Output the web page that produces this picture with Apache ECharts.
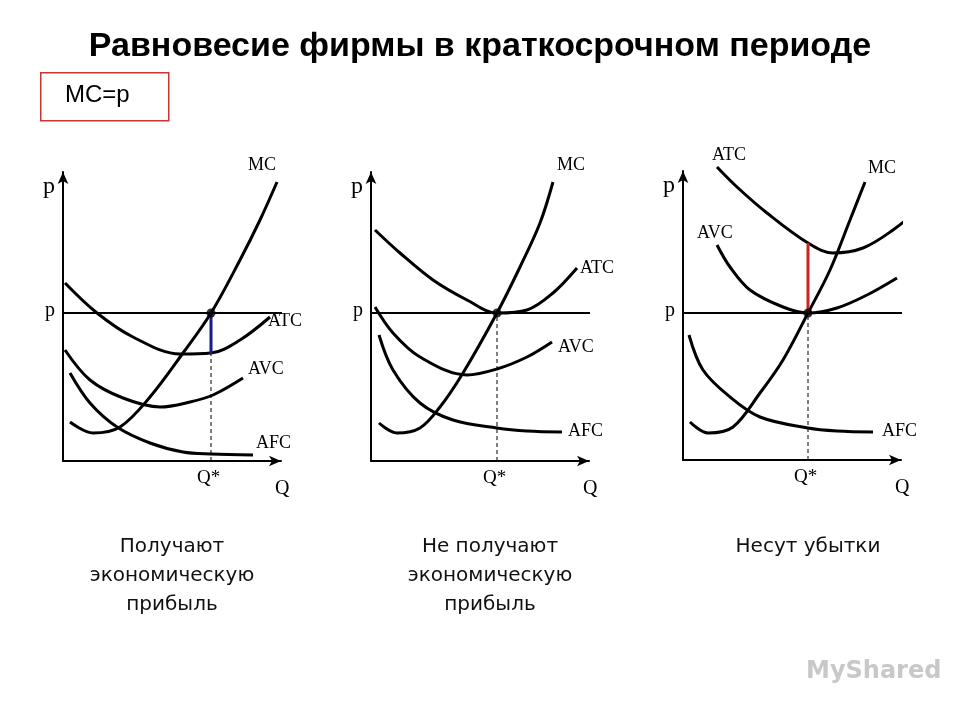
<!DOCTYPE html>
<html>
<head>
<meta charset="utf-8">
<script src="https://cdn.jsdelivr.net/npm/echarts@6/dist/echarts.min.js"></script>
<style>html,body{margin:0;padding:0;background:#fff}#main{width:960px;height:720px}</style>
</head>
<body>
<div id="main"></div>
<script>
// curve points per panel, (Q, p) in plot units measured from each origin
var mc1 = [[7,39],[30,28],[57,34],[87,64],[120,108],[148,148],[177,201],[197,241],[214,279]];
var atc1 = [[2,178],[34,148],[70,124],[117,107],[148,108],[177,121],[207,144]];
var avc1 = [[2,111],[27,81],[60,63],[97,54],[127,59],[150,66],[180,83]];
var afc1 = [[7,88],[27,58],[54,34],[87,18],[120,9],[148,7],[190,6]];

var mc2 = [[8,38],[26,28],[49,33],[69,54],[92,88],[126,148],[149,194],[169,238],[182,279]];
var atc2 = [[4,231],[29,208],[62,181],[96,161],[126,148],[156,151],[182,168],[206,193]];
var avc2 = [[4,154],[22,128],[49,104],[96,86],[126,92],[156,104],[181,119]];
var afc2 = [[8,126],[22,91],[49,58],[82,41],[126,33],[156,30],[191,29]];

var mc3 = [[7,38],[25,27],[50,33],[77,67],[100,100],[125,147],[147,190],[167,240],[182,278]];
var atc3 = [[34,293],[54,273],[84,247],[125,217],[150,207],[180,212],[210,230],[237,252]];
var avc3 = [[34,215],[47,193],[67,170],[100,153],[125,147],[154,152],[184,165],[214,182]];
var afc3 = [[6,125],[20,90],[47,63],[77,43],[125,32],[154,29],[190,28]];

var priceLevels = [148, 148, 147];
var qStars = [148, 126, 125];
var gapTops = [107, null, 217];   // ATC value at Q* where a gap is marked
var gapColors = ['#1a1a8c', null, '#cc2222'];
var captions = ['Получают\nэкономическую\nприбыль', 'Не получают\nэкономическую\nприбыль', 'Несут убытки'];

var panels = [
  {mc: mc1, atc: atc1, avc: avc1, afc: afc1, left: 63, bottom: 461, cx: 172},
  {mc: mc2, atc: atc2, avc: avc2, afc: afc2, left: 371, bottom: 461, cx: 490},
  {mc: mc3, atc: atc3, avc: avc3, afc: afc3, left: 683, bottom: 460, cx: 808}
];
var W = 218, H = 289;

var grids = [], xAxes = [], yAxes = [], series = [], graphics = [];
var serif = '"Liberation Serif", "DejaVu Serif", serif';

panels.forEach(function (pn, i) {
  grids.push({left: pn.left, top: pn.bottom - H, width: W, height: H});
  var axisLine = {show: true, symbol: ['none', 'arrow'], symbolSize: [8, 12], lineStyle: {color: '#000', width: 2}};
  xAxes.push({gridIndex: i, type: 'value', min: 0, max: W, axisLine: axisLine, axisTick: {show: false}, axisLabel: {show: false}, splitLine: {show: false}});
  yAxes.push({gridIndex: i, type: 'value', min: 0, max: H, axisLine: axisLine, axisTick: {show: false}, axisLabel: {show: false}, splitLine: {show: false}});
  var base = {type: 'line', xAxisIndex: i, yAxisIndex: i, showSymbol: false, symbol: 'none', clip: false, silent: true};
  [pn.mc, pn.atc, pn.avc, pn.afc].forEach(function (d) {
    series.push(Object.assign({}, base, {data: d, smooth: 0.35, lineStyle: {color: '#000', width: 3}}));
  });
  var p = priceLevels[i], q = qStars[i];
  series.push(Object.assign({}, base, {data: [[0, p], [237, p]], lineStyle: {color: '#000', width: 2}}));
  series.push(Object.assign({}, base, {data: [[q, 0], [q, p]], lineStyle: {color: '#000', width: 1, type: [4, 3]}}));
  if (gapTops[i] !== null) {
    series.push(Object.assign({}, base, {data: [[q, p], [q, gapTops[i]]], z: 3, lineStyle: {color: gapColors[i], width: 3}}));
  }
  series.push({type: 'scatter', xAxisIndex: i, yAxisIndex: i, data: [[q, p]], symbolSize: 9, itemStyle: {color: '#000'}, z: 4, silent: true});

  graphics.push({type: 'text', left: pn.left - 20, top: pn.bottom - 286, style: {text: 'p', font: '24px ' + serif, fill: '#000'}});
  graphics.push({type: 'text', left: pn.left - 18, top: pn.bottom - p - 12, style: {text: 'p', font: '20px ' + serif, fill: '#000'}});
  graphics.push({type: 'text', left: pn.left + q - 14, top: pn.bottom + 8, style: {text: 'Q*', font: '19px ' + serif, fill: '#000'}});
  graphics.push({type: 'text', left: pn.left + W - 6, top: pn.bottom + 18, style: {text: 'Q', font: '20px ' + serif, fill: '#000'}});
  graphics.push({type: 'text', x: pn.cx, y: 532, style: {text: captions[i], font: '20px "DejaVu Sans", sans-serif', fill: '#111', align: 'center', verticalAlign: 'top', lineHeight: 29}});
});

// curve name labels
var lbl = [
  ['MC', 248, 156], ['ATC', 268, 312], ['AVC', 248, 360], ['AFC', 256, 434],
  ['MC', 557, 156], ['ATC', 580, 259], ['AVC', 558, 338], ['AFC', 568, 422],
  ['ATC', 712, 146], ['MC', 868, 159], ['AVC', 697, 224], ['AFC', 882, 422]
];
lbl.forEach(function (l) {
  graphics.push({type: 'text', left: l[1], top: l[2], style: {text: l[0], font: '18px ' + serif, fill: '#000'}});
});

graphics.push({type: 'text', x: 480, y: 30, style: {text: 'Равновесие фирмы в краткосрочном периоде', font: 'bold 34px "Liberation Sans", Arial, sans-serif', fill: '#000', align: 'center', verticalAlign: 'top'}});
graphics.push({type: 'rect', left: 40, top: 72, shape: {width: 128, height: 48}, style: {fill: '#fff', stroke: '#cc3333', lineWidth: 1.5}});
graphics.push({type: 'text', left: 65, top: 83, style: {text: 'MC=p', font: '24px "Liberation Sans", Arial, sans-serif', fill: '#000'}});
graphics.push({type: 'text', left: 806, top: 660, style: {text: 'MyShared', font: 'bold 24px "DejaVu Sans", sans-serif', fill: '#c8c8c8'}});

var chart = echarts.init(document.getElementById('main'));
chart.setOption({
  animation: false,
  backgroundColor: '#fff',
  grid: grids,
  xAxis: xAxes,
  yAxis: yAxes,
  series: series,
  graphic: graphics
});
</script>
</body>
</html>
